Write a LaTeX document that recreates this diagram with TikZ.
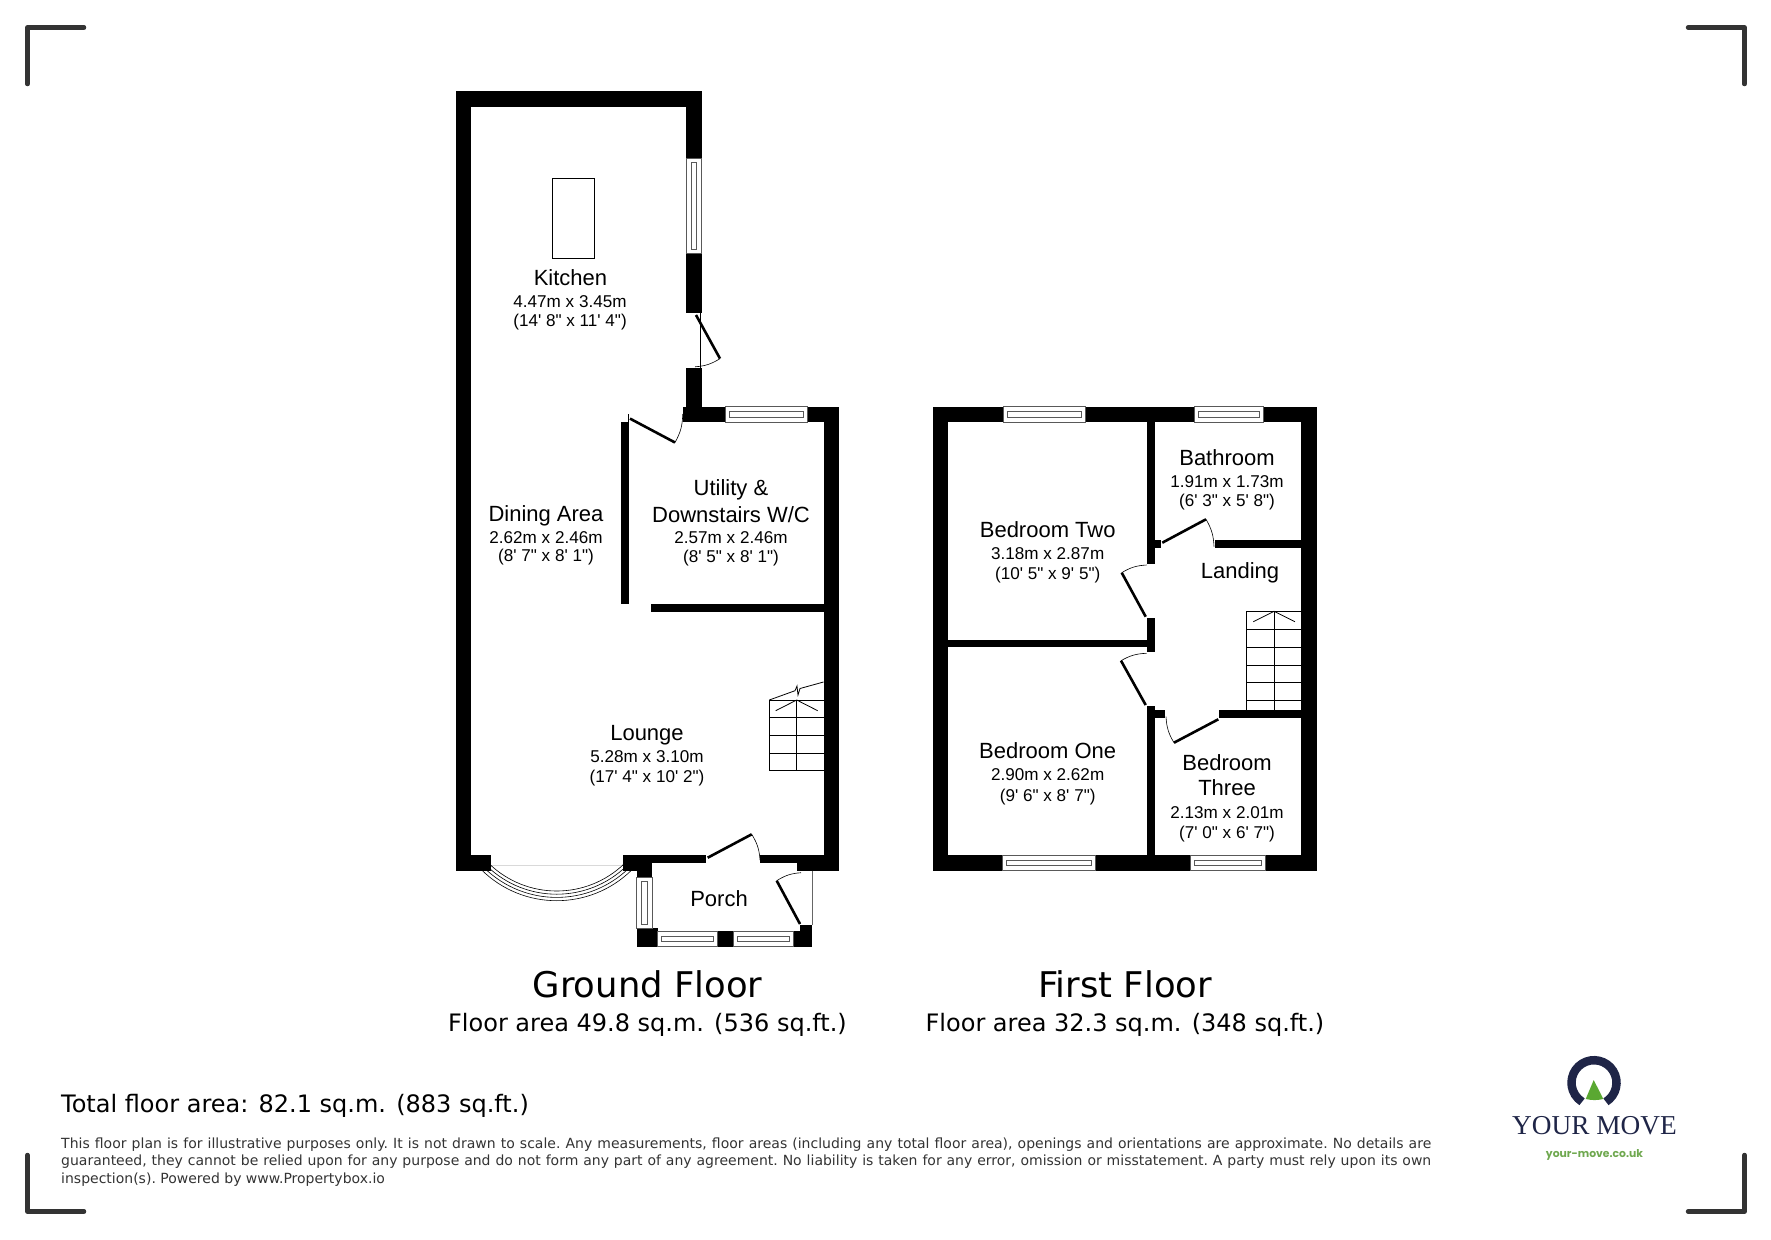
\documentclass[tikz,border=0pt]{standalone}
\usepackage{fontspec}
\newfontfamily\roomfont{Liberation Sans}
\newfontfamily\titlefont{DejaVu Sans}
\newfontfamily\logofont{Liberation Serif}
\newfontfamily\webfont{Poppins}
\usetikzlibrary{calc}
\definecolor{logonavy}{HTML}{1F2547}
\definecolor{logogreen}{HTML}{5AA832}
\definecolor{urlgreen}{HTML}{6FA84F}
\definecolor{cornergrey}{HTML}{333333}
\definecolor{smallgrey}{HTML}{333333}
\tikzset{
    wall/.style = {fill=black},
    window/.style = {draw=black!65,fill=white,line width=0.6pt},
    leaf/.style = {line width=2.6pt},
    swing/.style = {line width=0.6pt},
    tread/.style = {line width=0.8pt},
    corner/.style = {cornergrey,line width=4.5pt,line cap=round,line join=round},
    roomname/.style = {anchor=base,inner sep=0pt,font=\roomfont\fontsize{22}{24}\selectfont},
    roomsize/.style = {anchor=base,inner sep=0pt,font=\roomfont\fontsize{17.1}{19}\selectfont},
    floortitle/.style = {anchor=base,inner sep=0pt,font=\titlefont\fontsize{35.4}{40}\selectfont},
    floorarea/.style = {anchor=base,inner sep=0pt,font=\titlefont\fontsize{24}{26}\selectfont}}
\begin{document}
\begin{tikzpicture}[x=1pt,y=-1pt]
    \useasboundingbox (0,0) rectangle (1771,1239);
    % corners
    \draw[corner] (27.5,84) -- (27.5,27.5) -- (84,27.5);
    \draw[corner] (1688,27.5) -- (1744.5,27.5) -- (1744.5,84);
    \draw[corner] (27.5,1155) -- (27.5,1211.5) -- (84,1211.5);
    \draw[corner] (1688,1211.5) -- (1744.5,1211.5) -- (1744.5,1155);
    % ground floor walls
    \fill[wall] (455.5,91) rectangle (471,870);
    \fill[wall] (455.5,91) rectangle (701.5,107);
    \fill[wall] (686,91) rectangle (701.5,158.5);
    \fill[wall] (686,253) rectangle (701.5,313);
    \fill[wall] (686,367.5) rectangle (701.5,422);
    \fill[wall] (683,406.5) rectangle (839,422);
    \fill[wall] (823.5,406.5) rectangle (839,870.5);
    \fill[wall] (621,422) rectangle (628.7,604.3);
    \fill[wall] (651,604.3) rectangle (823.5,612);
    \fill[wall] (455.5,855) rectangle (491,870.5);
    \fill[wall] (622.7,855) rectangle (652,870.5);
    \fill[wall] (622.7,855) rectangle (706,862.5);
    \fill[wall] (760,855) rectangle (823.5,862.5);
    \fill[wall] (797,855) rectangle (839,870.5);
    \fill[wall] (636.7,870) rectangle (652,877);
    \fill[wall] (636.7,928) rectangle (657.5,946.7);
    \fill[wall] (717.7,931) rectangle (733.3,946.7);
    \fill[wall] (793.3,931) rectangle (812.3,946.7);
    \fill[wall] (800,925) rectangle (812.3,946.7);
    % first floor walls
    \fill[wall] (932.7,406.7) rectangle (1316.7,422);
    \fill[wall] (932.7,855) rectangle (1316.7,870.7);
    \fill[wall] (932.7,406.7) rectangle (948.3,870.7);
    \fill[wall] (1300.7,406.7) rectangle (1316.7,870.7);
    \fill[wall] (1147,422) rectangle (1155,564);
    \fill[wall] (1147,540) rectangle (1161,547.7);
    \fill[wall] (1147,618.3) rectangle (1155,651.7);
    \fill[wall] (948.3,639.7) rectangle (1147,647.3);
    \fill[wall] (1147,706) rectangle (1155,855);
    \fill[wall] (1147,710) rectangle (1165.3,718);
    \fill[wall] (1219,710) rectangle (1300.7,718);
    \fill[wall] (1215,540) rectangle (1300.7,548);
    % windows
    \draw[window] (686,158.5) rectangle (701.5,253);
    \draw[window] (691,162.5) rectangle (696.5,249);
    \draw[window] (725.7,406.5) rectangle (807,422);
    \draw[window] (729.7,411.5) rectangle (803,417);
    \draw[window] (636.7,877) rectangle (652,928);
    \draw[window] (641.5,881) rectangle (647,924);
    \draw[window] (657.5,931) rectangle (717.7,946.7);
    \draw[window] (661.5,936) rectangle (713.7,941.5);
    \draw[window] (733.3,931) rectangle (793.3,946.7);
    \draw[window] (737.3,936) rectangle (789.3,941.5);
    \draw[window] (1003.3,406.7) rectangle (1085,422);
    \draw[window] (1007.3,411.7) rectangle (1081,417);
    \draw[window] (1194,406.7) rectangle (1263.3,422);
    \draw[window] (1198,411.7) rectangle (1259.3,417);
    \draw[window] (1002.7,855) rectangle (1095.7,870.7);
    \draw[window] (1006.7,860) rectangle (1091.7,865.5);
    \draw[window] (1190,855) rectangle (1265.3,870.7);
    \draw[window] (1194,860) rectangle (1261.3,865.5);
    % bay window
    \coordinate (bay) at (556.7,793.7);
    \draw[black!15,line width=0.6pt] (491,865.5) -- (622.7,865.5);
    \draw[swing] (bay) ++(46:97.3) arc[start angle=46,end angle=134,radius=97.3];
    \draw[swing] (bay) ++(46:100.5) arc[start angle=46,end angle=134,radius=100.5];
    \draw[swing] (bay) ++(46:103.7) arc[start angle=46,end angle=134,radius=103.7];
    \draw[swing] (bay) ++(45.5:107) arc[start angle=45.5,end angle=134.5,radius=107];
    % doors
    \draw[leaf] (696,315) -- (720,358.6);
    \draw[swing] (720,358.6) to[bend left=14] (695,366.8);
    \draw[swing] (700.7,313) -- (700.7,367.5);
    \draw[leaf] (630,418.6) -- (675,442.5);
    \draw[swing] (675,442.5) to[bend right=14] (682.7,414);
    \draw[swing] (628.7,414) -- (628.7,422);
    \draw[leaf] (707.7,857.7) -- (751.7,834.3);
    \draw[swing] (751.7,834.3) to[bend left=14] (760,860);
    \draw[leaf] (800,924) -- (776.7,880.7);
    \draw[swing] (776.7,880.7) to[bend left=14] (801,872.7);
    \draw[swing,black!60] (812,870.5) -- (812,925);
    \draw[leaf] (1162.3,542.7) -- (1206,519.3);
    \draw[swing] (1206,519.3) to[bend left=14] (1214,546.7);
    \draw[leaf] (1145.7,616.7) -- (1121.7,572.7);
    \draw[swing] (1121.7,572.7) to[bend left=14] (1146.7,565);
    \draw[leaf] (1145.7,705) -- (1121,660.7);
    \draw[swing] (1121,660.7) to[bend left=14] (1146.7,653.3);
    \draw[leaf] (1218.3,719.3) -- (1174,742.7);
    \draw[swing] (1174,742.7) to[bend left=14] (1166,716.7);
    % island
    \draw[line width=0.9pt] (552.7,178) rectangle (594,258);
    % lounge stairs
    \draw[tread] (823.5,700) -- (769.3,700) -- (769.3,770.7) -- (823.5,770.7);
    \draw[tread] (769.3,717.7) -- (823.5,717.7);
    \draw[tread] (769.3,735.3) -- (823.5,735.3);
    \draw[tread] (769.3,753) -- (823.5,753);
    \draw[tread] (796.7,700) -- (796.7,770.7);
    \draw[tread] (775.7,710.7) -- (796.7,700) -- (817.7,710.7);
    \draw[tread] (769.3,700) -- (795,690.7) -- (797,686) -- (798,695) -- (800,688.5) -- (823.5,682);
    % landing stairs
    \draw[tread] (1300.7,611.3) -- (1246,611.3) -- (1246,710);
    \draw[tread] (1246,629.3) -- (1300.7,629.3);
    \draw[tread] (1246,647.3) -- (1300.7,647.3);
    \draw[tread] (1246,665) -- (1300.7,665);
    \draw[tread] (1246,682.7) -- (1300.7,682.7);
    \draw[tread] (1246,700.7) -- (1300.7,700.7);
    \draw[tread] (1274,611.3) -- (1274,710);
    \draw[tread] (1253.3,621.7) -- (1274,611.3) -- (1295,621.7);
    % room labels
    \node[roomname] (kitchen) at (570.5,285.5) {Kitchen};
    \node[roomsize] (kitchensize) at (570,307.5) {4.47m x 3.45m};
    \node[roomsize] (kitcheninch) at (570,326.5) {(14' 8" x 11' 4")};
    \node[roomname] (dining) at (546,521) {Dining Area};
    \node[roomsize] (diningsize) at (546,543) {2.62m x 2.46m};
    \node[roomsize] (dininginch) at (546,561.5) {(8' 7" x 8' 1")};
    \node[roomname] (utility) at (731,495.5) {Utility \&};
    \node[roomname] (utilitytwo) at (731,522) {Downstairs W/C};
    \node[roomsize] (utilitysize) at (731,543.5) {2.57m x 2.46m};
    \node[roomsize] (utilityinch) at (731,562.5) {(8' 5" x 8' 1")};
    \node[roomname] (lounge) at (647,740.5) {Lounge};
    \node[roomsize] (loungesize) at (647,762) {5.28m x 3.10m};
    \node[roomsize] (loungeinch) at (647,782.5) {(17' 4" x 10' 2")};
    \node[roomname] (porch) at (719,906.5) {Porch};
    \node[roomname] (bedtwo) at (1047.7,537.5) {Bedroom Two};
    \node[roomsize] (bedtwosize) at (1047.7,559.5) {3.18m x 2.87m};
    \node[roomsize] (bedtwoinch) at (1047.7,579.5) {(10' 5" x 9' 5")};
    \node[roomname] (bathroom) at (1227,465.5) {Bathroom};
    \node[roomsize] (bathroomsize) at (1227,487) {1.91m x 1.73m};
    \node[roomsize] (bathroominch) at (1227,506) {(6' 3" x 5' 8")};
    \node[roomname] (landing) at (1240,578.5) {Landing};
    \node[roomname] (bedone) at (1047.7,758.5) {Bedroom One};
    \node[roomsize] (bedonesize) at (1047.7,780) {2.90m x 2.62m};
    \node[roomsize] (bedoneinch) at (1047.7,801) {(9' 6" x 8' 7")};
    \node[roomname] (bedthree) at (1227,770.5) {Bedroom};
    \node[roomname] (bedthreetwo) at (1227,795.5) {Three};
    \node[roomsize] (bedthreesize) at (1227,818) {2.13m x 2.01m};
    \node[roomsize] (bedthreeinch) at (1227,838) {(7' 0" x 6' 7")};
    % floor titles
    \node[floortitle] (ground) at (647.5,997) {Ground Floor};
    \node[floorarea] (groundarea) at (647.5,1031) {Floor area 49.8 sq.m. (536 sq.ft.)};
    \node[floortitle] (first) at (1125,997) {First Floor};
    \node[floorarea] (firstarea) at (1125,1031) {Floor area 32.3 sq.m. (348 sq.ft.)};
    \node[anchor=base west,inner sep=0pt,font=\titlefont\fontsize{24}{26}\selectfont] (total) at (61,1112) {Total floor area: 82.1 sq.m. (883 sq.ft.)};
    \node[anchor=north west,inner sep=0pt,text width=1370pt,align=justify,text=smallgrey,
        font=\titlefont\fontsize{14}{17.6}\selectfont] (notice) at (61,1137.5)
        {\frenchspacing This floor plan is for illustrative purposes only. It is not drawn to scale. Any measurements, floor areas (including any total floor area), openings and orientations are approximate. No details are\linebreak
        guaranteed, they cannot be relied upon for any purpose and do not form any part of any agreement. No liability is taken for any error, omission or misstatement. A party must rely upon its own\linebreak
        inspection(s). Powered by www.Propertybox.io};
    % logo
    \coordinate (ring) at (1594,1082.7);
    \draw[logonavy,line width=8.5pt] (ring) ++(58:22.5) arc[start angle=58,end angle=-238,radius=22.5];
    \fill[logogreen] (1593.7,1080) -- (1603.3,1099) to[bend left=12] (1585.7,1099) -- cycle;
    \node[anchor=base,inner sep=0pt,text=logonavy,font=\logofont\fontsize{27.3}{30}\selectfont] (brand) at (1594.5,1134) {YOUR MOVE};
    \node[anchor=base,inner sep=0pt,text=urlgreen,font=\webfont\bfseries\fontsize{10.8}{13}\selectfont] (url) at (1594.5,1157) {your-move.co.uk};
\end{tikzpicture}
\end{document}
